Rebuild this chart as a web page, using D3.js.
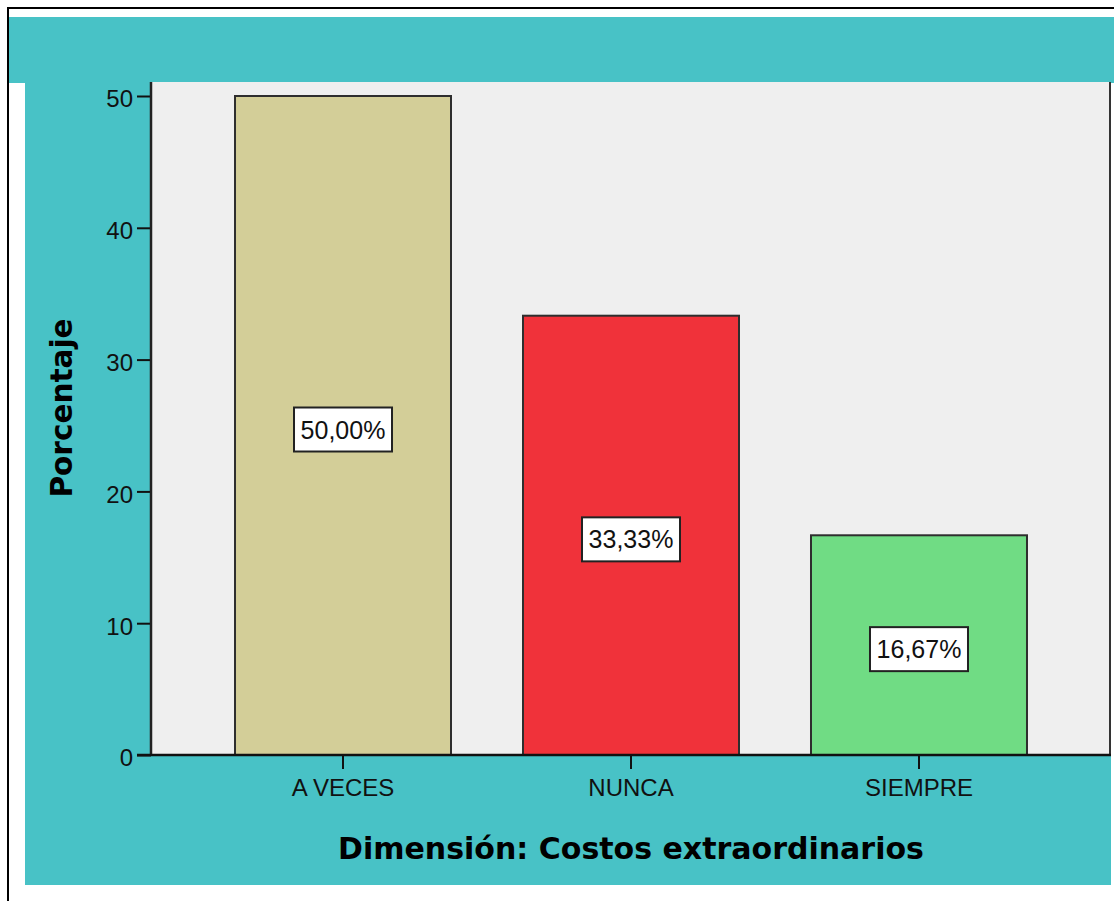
<!DOCTYPE html>
<html>
<head>
<meta charset="utf-8">
<script src="https://cdn.jsdelivr.net/npm/d3@7"></script>
<style>
  body { margin: 0; background: #ffffff; }
  svg { display: block; }
</style>
</head>
<body>
<div id="chart"></div>
<script>
// Chart data
var categories = ["A VECES", "NUNCA", "SIEMPRE"];
var values = [50.00, 33.33, 16.67];
var valueLabels = ["50,00%", "33,33%", "16,67%"];
var barColors = ["#d3ce98", "#f0323a", "#70dc84"];
var yTicks = [0, 10, 20, 30, 40, 50];

var width = 1114,
    height = 901;

var teal = "#48c2c6";

var svg = d3.select("#chart")
            .append("svg")
            .attr("width", width)
            .attr("height", height);

// Outer frame (top and left black lines)
svg.append("line").attr("x1", 8).attr("x2", width).attr("y1", 8).attr("y2", 8)
   .attr("stroke", "#000").attr("stroke-width", 2);
svg.append("line").attr("x1", 8).attr("x2", 8).attr("y1", 7).attr("y2", height)
   .attr("stroke", "#000").attr("stroke-width", 2);

// Teal header band and chart background
svg.append("rect").attr("x", 9).attr("y", 17).attr("width", width - 9).attr("height", 66).attr("fill", teal);
svg.append("rect").attr("x", 25).attr("y", 82).attr("width", 1086).attr("height", 803).attr("fill", teal);

// Plot area
var plot = { left: 151, right: 1111, top: 82, bottom: 755 };

svg.append("rect")
   .attr("x", plot.left).attr("y", plot.top)
   .attr("width", plot.right - plot.left).attr("height", plot.bottom - plot.top)
   .attr("fill", "#efefef");

// Scales
var x = d3.scaleBand()
          .domain(categories)
          .range([plot.left, plot.right])
          .paddingInner(0.25)
          .paddingOuter(0.2917);

var y = d3.scaleLinear()
          .domain([0, 50])
          .range([plot.bottom, 96]);

// Bars
svg.append("g")
   .selectAll("rect")
   .data(values)
   .enter().append("rect")
   .attr("x", (d, i) => x(categories[i]))
   .attr("y", d => y(d))
   .attr("width", x.bandwidth())
   .attr("height", d => y(0) - y(d))
   .attr("fill", (d, i) => barColors[i])
   .attr("stroke", "#2e2e2e")
   .attr("stroke-width", 2);

// Value labels in white boxes
var labels = svg.append("g")
                .selectAll("g")
                .data(values)
                .enter().append("g")
                .attr("transform", (d, i) => "translate(" + (x(categories[i]) + x.bandwidth() / 2) + "," + (y(d / 2) + 4) + ")");

labels.append("rect")
      .attr("x", -49).attr("y", -22)
      .attr("width", 98).attr("height", 44)
      .attr("fill", "#ffffff")
      .attr("stroke", "#222")
      .attr("stroke-width", 2);

labels.append("text")
      .attr("text-anchor", "middle")
      .attr("dy", "0.36em")
      .style("font-family", "'Liberation Sans', Arial, sans-serif")
      .style("font-size", "25px")
      .attr("fill", "#111")
      .text((d, i) => valueLabels[i]);

// Y axis
var yAxis = d3.axisLeft(y)
              .tickValues(yTicks)
              .tickSize(14)
              .tickPadding(4)
              .tickFormat(d3.format("d"));

var yG = svg.append("g")
            .attr("transform", "translate(" + plot.left + ",0)")
            .call(yAxis);
yG.select(".domain").remove();
yG.selectAll("line").attr("stroke", "#111").attr("stroke-width", 2);
yG.selectAll("text")
  .attr("dy", "0.45em")
  .style("font-family", "'Liberation Sans', Arial, sans-serif")
  .style("font-size", "24px")
  .attr("fill", "#111");

svg.append("line")
   .attr("x1", plot.left).attr("x2", plot.left)
   .attr("y1", plot.top).attr("y2", plot.bottom)
   .attr("stroke", "#222").attr("stroke-width", 2.5);

// Right border of plot
svg.append("line")
   .attr("x1", plot.right - 1).attr("x2", plot.right - 1)
   .attr("y1", plot.top).attr("y2", plot.bottom)
   .attr("stroke", "#333").attr("stroke-width", 2);

// X axis
var xAxis = d3.axisBottom(x)
              .tickSize(14)
              .tickPadding(10);

var xG = svg.append("g")
            .attr("transform", "translate(0," + plot.bottom + ")")
            .call(xAxis);
xG.select(".domain").remove();
xG.selectAll("line").attr("stroke", "#111").attr("stroke-width", 2);
xG.selectAll("text")
  .style("font-family", "'Liberation Sans', Arial, sans-serif")
  .style("font-size", "24px")
  .attr("fill", "#111");

svg.append("line")
   .attr("x1", 137).attr("x2", plot.right)
   .attr("y1", plot.bottom).attr("y2", plot.bottom)
   .attr("stroke", "#111").attr("stroke-width", 2.5);

// Axis titles
svg.append("text")
   .attr("x", (plot.left + plot.right) / 2)
   .attr("y", 859)
   .attr("text-anchor", "middle")
   .style("font-family", "'DejaVu Sans', sans-serif")
   .style("font-weight", "bold")
   .style("font-size", "30px")
   .attr("fill", "#000")
   .text("Dimensión: Costos extraordinarios");

svg.append("text")
   .attr("transform", "translate(72,408) rotate(-90)")
   .attr("text-anchor", "middle")
   .style("font-family", "'DejaVu Sans', sans-serif")
   .style("font-weight", "bold")
   .style("font-size", "29.5px")
   .attr("fill", "#000")
   .text("Porcentaje");
</script>
</body>
</html>
